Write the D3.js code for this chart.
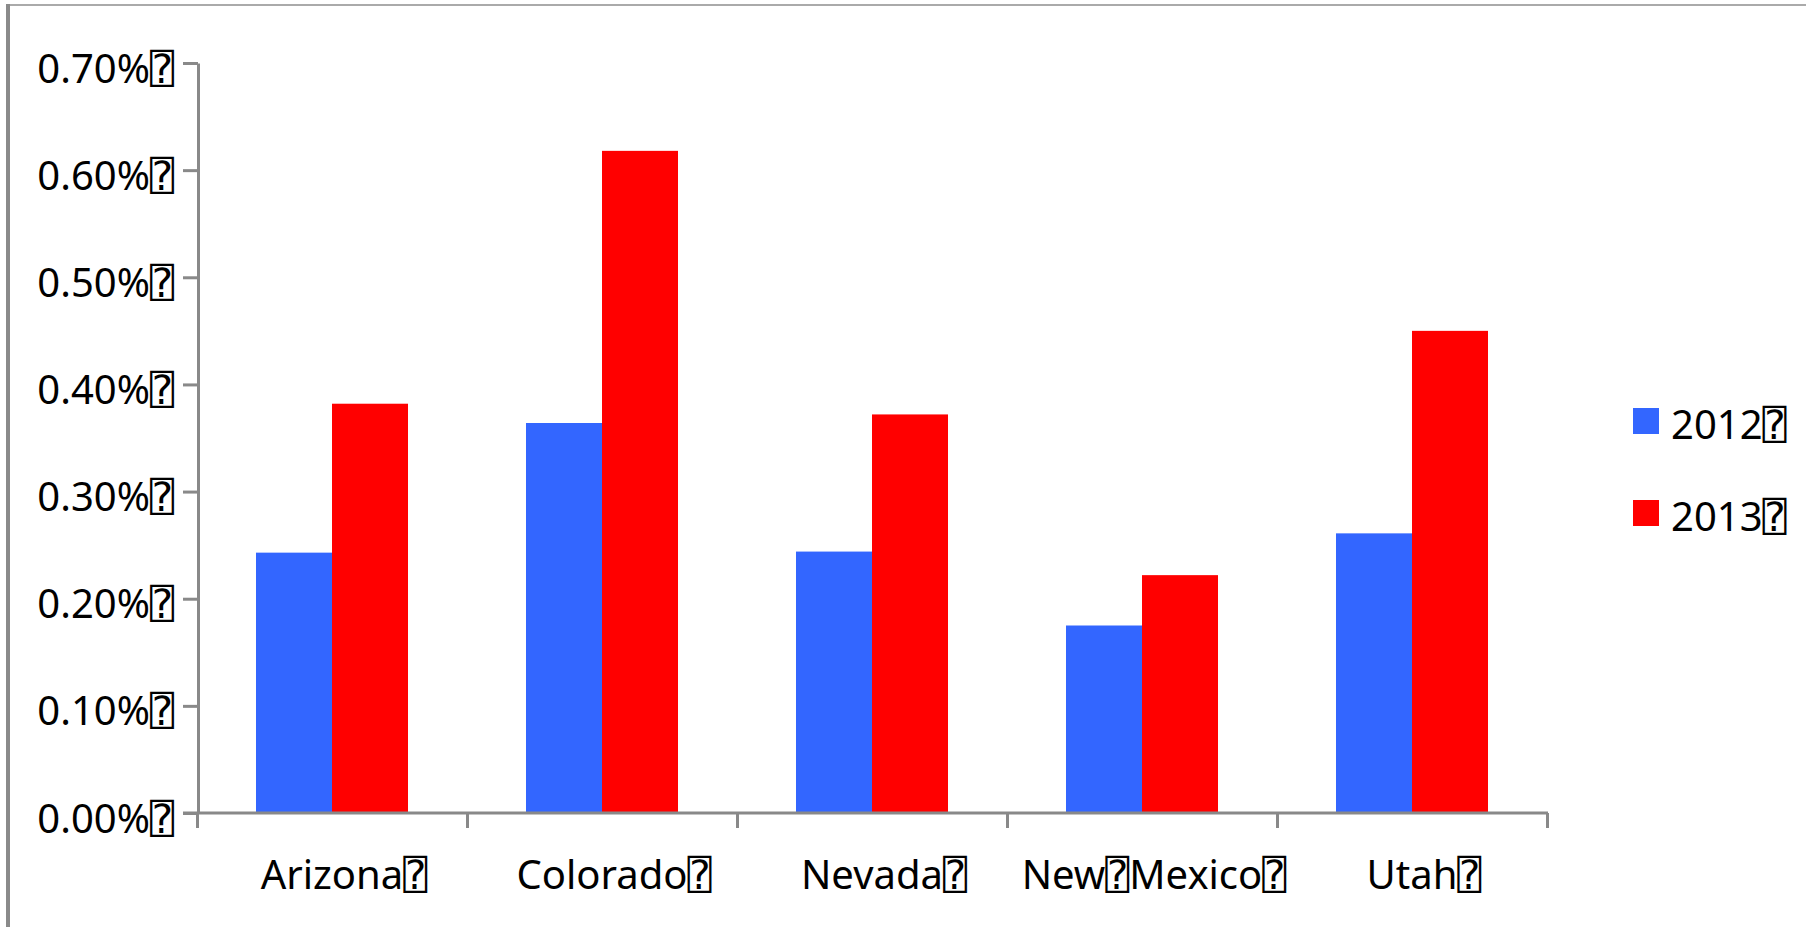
<!DOCTYPE html>
<html>
<head>
<meta charset="utf-8">
<script src="https://cdn.jsdelivr.net/npm/d3@7"></script>
<style>
  body { margin: 0; background: #fff; }
  text { font-family: "Noto Sans", "Open Sans", "DejaVu Sans Mono", sans-serif; fill: #000; }
  .axis path, .axis line { stroke: #898989; stroke-width: 3; }
</style>
</head>
<body>
<svg width="1820" height="927"></svg>
<script>
// the source text carries a stray unrenderable char after each label,
// which shows up as a boxed question mark
const TOFU = "\u2370";

const states = ["Arizona", "Colorado", "Nevada", "New" + TOFU + "Mexico", "Utah"];
const years = ["2012", "2013"];
const values2012 = [0.243, 0.364, 0.244, 0.175, 0.261];
const values2013 = [0.382, 0.618, 0.372, 0.222, 0.450];
const yTicks = [0, 0.1, 0.2, 0.3, 0.4, 0.5, 0.6, 0.7];
const colors = ["#3366ff", "#ff0000"];

const svg = d3.select("svg");

// outer frame
svg.append("line").attr("x1", 8).attr("x2", 1806).attr("y1", 5).attr("y2", 5)
    .attr("stroke", "#aaaaaa").attr("stroke-width", 2);
svg.append("line").attr("x1", 8).attr("x2", 8).attr("y1", 4).attr("y2", 927)
    .attr("stroke", "#8a8a8a").attr("stroke-width", 4);

const plotLeft = 198, plotRight = 1547, plotTop = 63, plotBottom = 813;

const x0 = d3.scaleBand()
    .domain(states)
    .range([plotLeft - 1, plotRight])
    .paddingInner(0.437)
    .paddingOuter(0.2185);

const x1 = d3.scaleBand()
    .domain(years)
    .range([0, x0.bandwidth()]);

const y = d3.scaleLinear()
    .domain([0, 0.7])
    .range([plotBottom, plotTop]);

const color = d3.scaleOrdinal().domain(years).range(colors);

const data = states.map((s, i) => ({ state: s, vals: [values2012[i], values2013[i]] }));

// bars
const groups = svg.append("g").selectAll("g")
    .data(data)
    .enter().append("g")
    .attr("transform", d => `translate(${x0(d.state)},0)`);

groups.selectAll("rect")
    .data(d => years.map((yr, j) => ({ year: yr, value: d.vals[j] })))
    .enter().append("rect")
    .attr("x", d => x1(d.year))
    .attr("y", d => y(d.value))
    .attr("width", x1.bandwidth())
    .attr("height", d => y(0) - y(d.value))
    .attr("fill", d => color(d.year));

// y axis
const yAxis = svg.append("g")
    .attr("class", "axis")
    .attr("transform", `translate(${plotLeft},0)`)
    .call(d3.axisLeft(y)
        .tickValues(yTicks)
        .tickSize(15)
        .tickSizeOuter(0)
        .tickPadding(9)
        .tickFormat(d => d3.format(".2f")(d) + "%" + TOFU));
yAxis.selectAll("text")
    .attr("font-size", 40)
    .attr("dy", 19);

// x axis: ticks sit on the category boundaries
const bounds = d3.scaleLinear().domain([0, states.length]).range([plotLeft - 1, plotRight]);
const xAxis = svg.append("g")
    .attr("class", "axis")
    .attr("transform", `translate(0,${plotBottom})`)
    .call(d3.axisBottom(bounds)
        .ticks(states.length)
        .tickSize(15)
        .tickSizeOuter(0)
        .tickFormat(""));
xAxis.select(".domain").attr("d", `M${plotLeft - 15},0H${plotRight + 1}`);

// category labels
svg.append("g").selectAll("text")
    .data(states)
    .enter().append("text")
    .attr("x", d => x0(d) + x0.bandwidth() / 2)
    .attr("dx", 12)
    .attr("y", plotBottom + 76)
    .attr("text-anchor", "middle")
    .attr("font-size", 40)
    .text(d => d + TOFU);

// legend
const legend = svg.append("g").selectAll("g")
    .data(years)
    .enter().append("g")
    .attr("transform", (d, i) => `translate(1633,${408 + i * 92})`);

legend.append("rect")
    .attr("width", 26)
    .attr("height", 26)
    .attr("fill", d => color(d));

legend.append("text")
    .attr("x", 38)
    .attr("y", 31)
    .attr("font-size", 40)
    .text(d => d + TOFU);
</script>
</body>
</html>
